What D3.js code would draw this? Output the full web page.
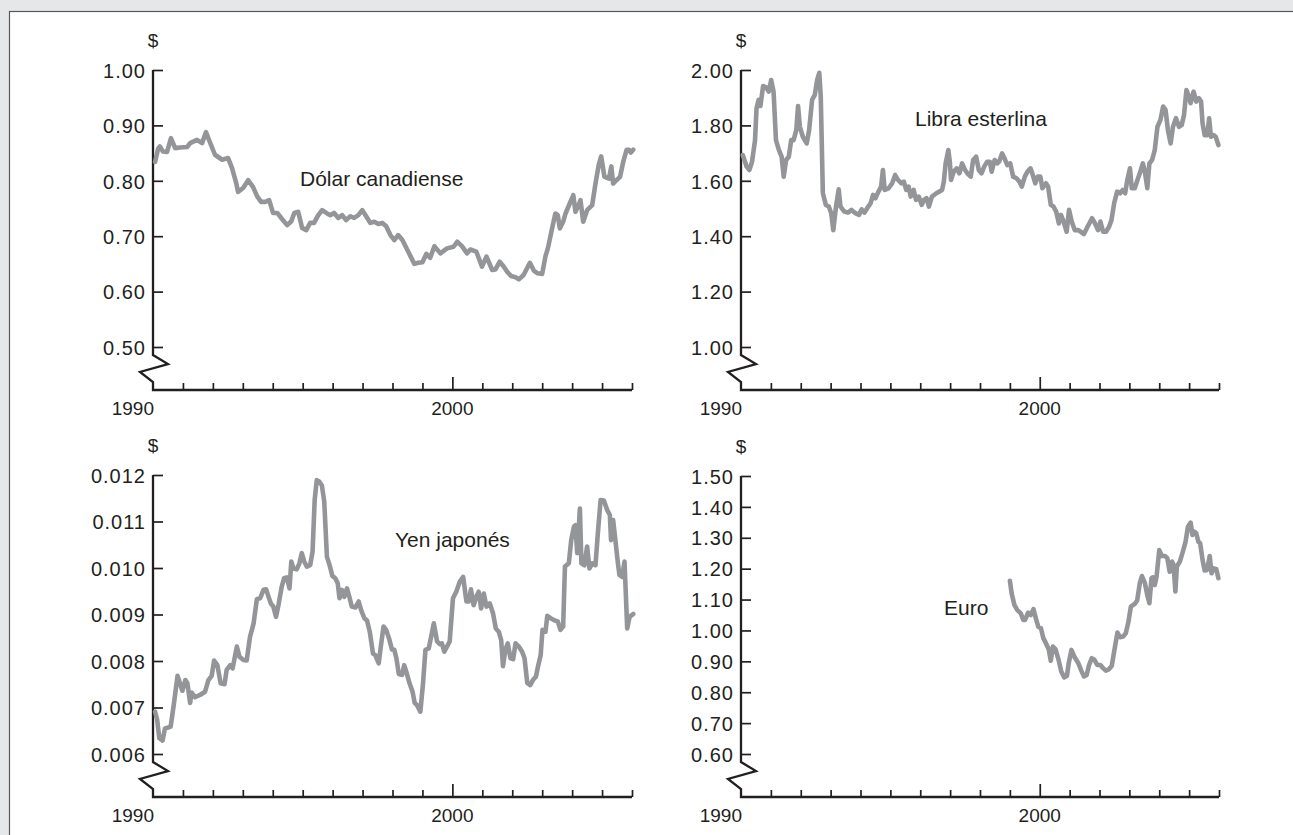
<!DOCTYPE html>
<html>
<head>
<meta charset="utf-8">
<script src="https://cdn.jsdelivr.net/npm/d3@7"></script>
<style>
  html, body { margin: 0; padding: 0; background: #e6e7e8; }
  svg text { font-family: "Liberation Sans", Arial, Helvetica, sans-serif; fill: #231f20; }
</style>
</head>
<body>
<div id="chart"></div>
<script>
// years since 1990, value in US$
const cadSeries = [
  [0.07,0.834],[0.17,0.858],[0.23,0.862],[0.33,0.853],[0.47,0.852],[0.60,0.877],[0.74,0.859],
  [0.90,0.860],[1.14,0.861],[1.24,0.868],[1.47,0.874],[1.64,0.868],[1.77,0.888],[1.87,0.874],
  [2.07,0.847],[2.31,0.838],[2.51,0.841],[2.64,0.823],[2.78,0.796],[2.84,0.780],[3.01,0.787],
  [3.18,0.801],[3.34,0.789],[3.48,0.772],[3.61,0.762],[3.75,0.762],[3.88,0.765],[4.01,0.742],
  [4.15,0.742],[4.31,0.731],[4.48,0.720],[4.62,0.727],[4.72,0.742],[4.85,0.744],[4.98,0.715],
  [5.12,0.711],[5.25,0.724],[5.38,0.724],[5.52,0.738],[5.65,0.747],[5.79,0.742],[5.92,0.738],
  [6.05,0.742],[6.19,0.733],[6.32,0.738],[6.45,0.729],[6.59,0.736],[6.72,0.733],[6.86,0.738],
  [6.99,0.747],[7.12,0.736],[7.26,0.724],[7.39,0.726],[7.53,0.722],[7.66,0.724],[7.79,0.718],
  [7.93,0.702],[8.06,0.693],[8.19,0.702],[8.33,0.693],[8.46,0.679],[8.60,0.664],[8.73,0.650],
  [8.86,0.652],[9.00,0.653],[9.13,0.668],[9.26,0.661],[9.40,0.682],[9.60,0.669],[9.82,0.678],
  [10.04,0.681],[10.16,0.690],[10.32,0.682],[10.49,0.669],[10.60,0.676],[10.80,0.672],[10.99,0.645],
  [11.14,0.663],[11.33,0.639],[11.44,0.640],[11.58,0.654],[11.72,0.645],[11.83,0.636],[11.96,0.628],
  [12.11,0.626],[12.22,0.622],[12.38,0.630],[12.52,0.645],[12.59,0.652],[12.72,0.638],[12.85,0.633],
  [13.00,0.632],[13.11,0.664],[13.19,0.678],[13.33,0.714],[13.44,0.741],[13.52,0.738],[13.59,0.714],
  [13.70,0.726],[13.78,0.741],[13.92,0.759],[14.04,0.774],[14.11,0.744],[14.19,0.753],[14.28,0.765],
  [14.37,0.726],[14.50,0.747],[14.67,0.756],[14.78,0.795],[14.89,0.829],[14.97,0.844],[15.08,0.807],
  [15.23,0.804],[15.31,0.826],[15.37,0.795],[15.48,0.801],[15.60,0.807],[15.71,0.835],[15.82,0.856],
  [15.90,0.856],[15.96,0.851],[16.04,0.856]
];

const gbpSeries = [
  [0.06,1.693],[0.19,1.651],[0.28,1.639],[0.37,1.669],[0.47,1.747],[0.52,1.862],[0.59,1.892],
  [0.65,1.870],[0.74,1.942],[0.84,1.937],[0.93,1.922],[1.01,1.964],[1.09,1.922],[1.17,1.747],
  [1.27,1.711],[1.36,1.687],[1.43,1.615],[1.51,1.675],[1.60,1.687],[1.68,1.747],[1.76,1.747],
  [1.85,1.783],[1.91,1.870],[1.97,1.795],[2.07,1.759],[2.20,1.735],[2.28,1.783],[2.38,1.892],
  [2.47,1.910],[2.55,1.964],[2.62,1.990],[2.67,1.904],[2.74,1.555],[2.84,1.513],[2.94,1.507],
  [3.02,1.483],[3.09,1.422],[3.18,1.507],[3.27,1.569],[3.33,1.507],[3.46,1.489],[3.58,1.485],
  [3.70,1.495],[3.83,1.483],[3.95,1.477],[4.04,1.497],[4.13,1.485],[4.26,1.507],[4.34,1.519],
  [4.42,1.549],[4.50,1.537],[4.60,1.561],[4.69,1.579],[4.75,1.639],[4.81,1.567],[4.94,1.573],
  [5.06,1.591],[5.16,1.621],[5.24,1.605],[5.37,1.591],[5.45,1.597],[5.53,1.567],[5.61,1.579],
  [5.68,1.543],[5.78,1.567],[5.86,1.531],[5.95,1.543],[6.05,1.513],[6.12,1.531],[6.21,1.537],
  [6.29,1.507],[6.39,1.543],[6.54,1.555],[6.73,1.567],[6.79,1.597],[6.85,1.663],[6.94,1.711],
  [6.99,1.669],[7.03,1.603],[7.12,1.633],[7.22,1.645],[7.31,1.627],[7.40,1.663],[7.50,1.639],
  [7.59,1.625],[7.69,1.615],[7.77,1.675],[7.87,1.687],[7.96,1.639],[8.05,1.627],[8.14,1.651],
  [8.24,1.669],[8.33,1.669],[8.39,1.633],[8.49,1.675],[8.58,1.663],[8.64,1.669],[8.74,1.699],
  [8.82,1.681],[8.91,1.657],[9.01,1.663],[9.11,1.615],[9.22,1.609],[9.32,1.597],[9.40,1.579],
  [9.50,1.615],[9.59,1.633],[9.69,1.645],[9.75,1.627],[9.85,1.591],[9.93,1.615],[10.02,1.615],
  [10.09,1.573],[10.21,1.591],[10.28,1.579],[10.37,1.513],[10.46,1.507],[10.55,1.489],[10.64,1.446],
  [10.71,1.477],[10.80,1.453],[10.90,1.416],[10.98,1.495],[11.07,1.453],[11.17,1.422],[11.29,1.422],
  [11.48,1.408],[11.60,1.434],[11.75,1.465],[11.85,1.446],[11.95,1.422],[12.03,1.453],[12.12,1.416],
  [12.22,1.416],[12.32,1.434],[12.40,1.458],[12.49,1.519],[12.59,1.561],[12.69,1.555],[12.78,1.567],
  [12.86,1.555],[12.93,1.603],[13.02,1.645],[13.08,1.573],[13.18,1.573],[13.27,1.603],[13.35,1.627],
  [13.45,1.663],[13.51,1.639],[13.60,1.573],[13.67,1.663],[13.76,1.675],[13.85,1.711],[13.94,1.795],
  [14.04,1.820],[14.13,1.868],[14.21,1.856],[14.29,1.783],[14.38,1.735],[14.46,1.795],[14.56,1.826],
  [14.66,1.795],[14.75,1.801],[14.83,1.838],[14.91,1.928],[14.99,1.904],[15.05,1.880],[15.15,1.922],
  [15.24,1.886],[15.33,1.898],[15.40,1.886],[15.45,1.807],[15.52,1.765],[15.61,1.765],[15.67,1.826],
  [15.73,1.759],[15.82,1.765],[15.89,1.759],[15.98,1.729]
];

const jpySeries = [
  [0.07,0.00691],[0.14,0.00673],[0.21,0.00634],[0.32,0.00629],[0.40,0.00655],[0.51,0.00657],
  [0.59,0.00659],[0.70,0.00709],[0.82,0.00768],[0.90,0.00752],[0.98,0.00736],[1.08,0.00759],
  [1.15,0.00752],[1.24,0.00710],[1.29,0.00732],[1.40,0.00722],[1.57,0.00727],[1.74,0.00734],
  [1.85,0.00759],[1.96,0.00768],[2.04,0.00801],[2.15,0.00791],[2.26,0.00752],[2.39,0.00750],
  [2.46,0.00781],[2.58,0.00791],[2.66,0.00784],[2.80,0.00831],[2.89,0.00809],[3.02,0.00802],
  [3.13,0.00801],[3.24,0.00852],[3.36,0.00881],[3.47,0.00933],[3.58,0.00935],[3.69,0.00953],
  [3.78,0.00954],[3.86,0.00938],[3.94,0.00923],[4.02,0.00917],[4.11,0.00895],[4.19,0.00920],
  [4.30,0.00960],[4.38,0.00978],[4.47,0.00980],[4.56,0.00956],[4.62,0.01014],[4.69,0.00999],
  [4.80,0.00997],[4.89,0.01010],[4.97,0.01032],[5.05,0.01014],[5.14,0.01003],[5.25,0.01006],
  [5.33,0.01035],[5.40,0.01146],[5.47,0.01189],[5.55,0.01186],[5.64,0.01178],[5.72,0.01143],
  [5.81,0.01024],[5.90,0.01006],[5.99,0.00983],[6.09,0.00978],[6.17,0.00967],[6.23,0.00935],
  [6.31,0.00953],[6.39,0.00938],[6.48,0.00956],[6.57,0.00935],[6.64,0.00917],[6.76,0.00915],
  [6.87,0.00928],[6.95,0.00910],[7.06,0.00892],[7.15,0.00887],[7.24,0.00863],[7.35,0.00816],
  [7.42,0.00813],[7.54,0.00795],[7.61,0.00831],[7.70,0.00874],[7.79,0.00867],[7.90,0.00845],
  [7.98,0.00825],[8.06,0.00824],[8.13,0.00806],[8.21,0.00772],[8.32,0.00770],[8.39,0.00791],
  [8.46,0.00777],[8.57,0.00752],[8.67,0.00734],[8.74,0.00710],[8.82,0.00705],[8.93,0.00691],
  [9.02,0.00752],[9.10,0.00824],[9.21,0.00827],[9.29,0.00852],[9.38,0.00881],[9.49,0.00842],
  [9.58,0.00836],[9.65,0.00838],[9.73,0.00820],[9.82,0.00831],[9.91,0.00842],[10.02,0.00935],
  [10.13,0.00949],[10.25,0.00971],[10.36,0.00981],[10.47,0.00928],[10.55,0.00928],[10.62,0.00954],
  [10.71,0.00920],[10.80,0.00938],[10.88,0.00949],[10.96,0.00913],[11.05,0.00945],[11.14,0.00917],
  [11.25,0.00924],[11.36,0.00902],[11.45,0.00870],[11.55,0.00863],[11.63,0.00845],[11.69,0.00789],
  [11.77,0.00824],[11.85,0.00838],[11.94,0.00806],[12.03,0.00804],[12.11,0.00838],[12.22,0.00831],
  [12.33,0.00820],[12.41,0.00806],[12.50,0.00753],[12.60,0.00748],[12.69,0.00759],[12.79,0.00766],
  [12.86,0.00788],[12.95,0.00813],[13.01,0.00867],[13.11,0.00863],[13.17,0.00897],[13.28,0.00892],
  [13.39,0.00888],[13.52,0.00885],[13.61,0.00867],[13.70,0.00874],[13.76,0.01003],[13.89,0.01010],
  [13.97,0.01060],[14.06,0.01089],[14.11,0.01092],[14.17,0.01032],[14.26,0.01128],[14.31,0.01010],
  [14.41,0.01006],[14.50,0.01046],[14.58,0.00999],[14.67,0.01010],[14.78,0.01006],[14.86,0.01075],
  [14.95,0.01146],[15.06,0.01145],[15.17,0.01125],[15.26,0.01114],[15.30,0.01060],[15.37,0.01103],
  [15.45,0.01057],[15.53,0.01010],[15.58,0.00985],[15.67,0.00981],[15.75,0.01014],[15.84,0.00870],
  [15.92,0.00895],[16.04,0.00901]
];

const eurSeries = [
  [9.00,1.161],[9.06,1.120],[9.15,1.083],[9.25,1.066],[9.36,1.056],[9.45,1.034],[9.51,1.034],
  [9.61,1.058],[9.70,1.050],[9.79,1.069],[9.87,1.039],[9.95,1.012],[10.04,1.007],[10.12,0.975],
  [10.21,0.958],[10.30,0.939],[10.37,0.902],[10.44,0.948],[10.53,0.939],[10.63,0.905],[10.72,0.867],
  [10.82,0.848],[10.91,0.853],[10.97,0.894],[11.06,0.937],[11.16,0.915],[11.29,0.894],[11.39,0.870],
  [11.48,0.851],[11.57,0.856],[11.65,0.888],[11.74,0.910],[11.83,0.905],[11.93,0.888],[12.03,0.888],
  [12.12,0.878],[12.21,0.870],[12.31,0.874],[12.41,0.885],[12.50,0.937],[12.60,0.993],[12.69,0.978],
  [12.79,0.980],[12.88,0.991],[12.97,1.029],[13.05,1.077],[13.18,1.086],[13.26,1.097],[13.35,1.153],
  [13.42,1.176],[13.52,1.153],[13.61,1.110],[13.67,1.088],[13.74,1.169],[13.79,1.172],[13.85,1.147],
  [13.91,1.174],[14.00,1.260],[14.09,1.241],[14.19,1.241],[14.27,1.234],[14.35,1.190],[14.43,1.223],
  [14.48,1.212],[14.54,1.126],[14.59,1.207],[14.69,1.223],[14.79,1.255],[14.88,1.287],[14.96,1.336],
  [15.05,1.349],[15.11,1.309],[15.18,1.320],[15.24,1.314],[15.31,1.287],[15.37,1.282],[15.45,1.228],
  [15.52,1.194],[15.60,1.196],[15.69,1.241],[15.75,1.185],[15.82,1.201],[15.91,1.198],[15.98,1.169]
];

const baseYear = 1990;
const yearTicks = d3.range(1991, 2007);          // small ticks along each time axis
const yearLabels = [1990, 2000];
const cadTicks = [0.50, 0.60, 0.70, 0.80, 0.90, 1.00];
const gbpTicks = [1.00, 1.20, 1.40, 1.60, 1.80, 2.00];
const jpyTicks = [0.006, 0.007, 0.008, 0.009, 0.010, 0.011, 0.012];
const eurTicks = [0.60, 0.70, 0.80, 0.90, 1.00, 1.10, 1.20, 1.30, 1.40, 1.50];

const W = 1293, H = 835;
const ink = '#231f20';
const lineGrey = '#939598';

const svg = d3.select('#chart').append('svg')
    .attr('width', W)
    .attr('height', H);

svg.append('rect').attr('width', W).attr('height', H).attr('fill', '#e6e7e8');
svg.append('rect')
    .attr('x', 9.5).attr('y', 11.5)
    .attr('width', W + 20).attr('height', H + 20)
    .attr('fill', '#fff')
    .attr('stroke', '#58595b')
    .attr('stroke-width', 1.2);

// layout of the four panels
const panels = [
  { data: cadSeries, ticks: cadTicks, fmt: '.2f', label: 'Dólar canadiense',
    left: 153, right: 632, top: 70, bottom: 347, base: 390, lx: 300, ly: 186 },
  { data: gbpSeries, ticks: gbpTicks, fmt: '.2f', label: 'Libra esterlina',
    left: 741, right: 1219, top: 70, bottom: 347, base: 390, lx: 915, ly: 126 },
  { data: jpySeries, ticks: jpyTicks, fmt: '.3f', label: 'Yen japonés',
    left: 153, right: 632, top: 475, bottom: 754, base: 797, lx: 395, ly: 547 },
  { data: eurSeries, ticks: eurTicks, fmt: '.2f', label: 'Euro',
    left: 741, right: 1219, top: 476, bottom: 754, base: 797, lx: 944, ly: 615 }
];

panels.forEach(p => {
    const g = svg.append('g');

    const x = d3.scaleLinear()
        .domain([1990, 2006])
        .range([p.left, p.right]);

    const y = d3.scaleLinear()
        .domain(d3.extent(p.ticks))
        .range([p.bottom, p.top]);

    // y axis: ticks point inward, labels on the left
    g.append('g')
        .attr('transform', `translate(${p.left},0)`)
        .call(d3.axisLeft(y)
            .tickValues(p.ticks)
            .tickFormat(d3.format(p.fmt))
            .tickSizeInner(-10)
            .tickSizeOuter(0)
            .tickPadding(7))
        .call(a => a.select('.domain').remove())
        .call(a => a.selectAll('.tick line').attr('stroke', ink).attr('stroke-width', 1.7))
        .call(a => a.selectAll('.tick text')
            .attr('fill', ink)
            .attr('dy', '0.36em')
            .style('font-size', '20px')
            .style('letter-spacing', '1px')
            .style('font-family', '"Liberation Sans", Arial, sans-serif'));

    // x axis: small upward ticks, 2000 a bit taller
    g.append('g')
        .attr('transform', `translate(0,${p.base})`)
        .call(d3.axisBottom(x)
            .tickValues(yearTicks)
            .tickFormat('')
            .tickSizeInner(-7)
            .tickSizeOuter(0))
        .call(a => a.select('.domain').remove())
        .call(a => a.selectAll('.tick line')
            .attr('stroke', ink)
            .attr('stroke-width', 1.7)
            .attr('y2', d => d === 2000 ? -13 : -7));

    g.selectAll('.year-label')
        .data(yearLabels)
        .join('text')
        .attr('class', 'year-label')
        .attr('x', d => d === 1990 ? x(d) + 1 : x(d))
        .attr('y', p.base + 25)
        .attr('text-anchor', d => d === 1990 ? 'end' : 'middle')
        .style('font-size', '19px')
        .text(d => d);

    // axis frame with the broken-scale zigzag
    const L = p.left, B = p.base;
    const frame = [
        [L, p.top], [L, B - 35], [L + 15, B - 26], [L - 13, B - 18],
        [L, B - 8], [L, B], [p.right, B]
    ];
    g.append('path')
        .attr('d', d3.line()(frame))
        .attr('fill', 'none')
        .attr('stroke', ink)
        .attr('stroke-width', 2.3)
        .attr('stroke-linejoin', 'miter');

    g.append('text')
        .attr('x', L)
        .attr('y', p.top - 23)
        .attr('text-anchor', 'middle')
        .style('font-size', '19px')
        .text('$');

    g.append('path')
        .datum(p.data)
        .attr('fill', 'none')
        .attr('stroke', lineGrey)
        .attr('stroke-width', 4.6)
        .attr('stroke-linejoin', 'round')
        .attr('stroke-linecap', 'round')
        .attr('d', d3.line()
            .x(d => x(baseYear + d[0]))
            .y(d => y(d[1])));

    g.append('text')
        .attr('x', p.lx)
        .attr('y', p.ly)
        .style('font-size', '21px')
        .text(p.label);
});
</script>
</body>
</html>
